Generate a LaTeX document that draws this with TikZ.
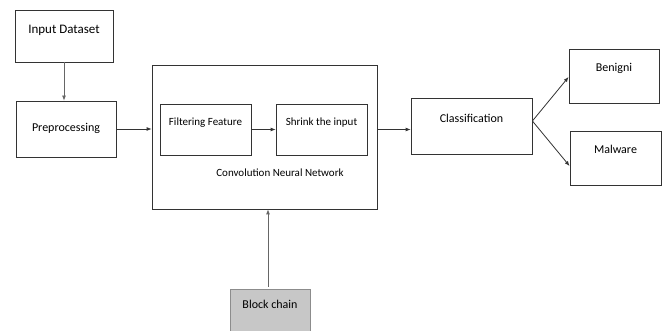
\documentclass[tikz,border=0pt]{standalone}
\usepackage{fontspec}
\setmainfont{Carlito}
\usetikzlibrary{arrows.meta,calc}

\begin{document}
\begin{tikzpicture}[x=1pt, y=-1pt, >={Latex[length=5pt,width=4pt]},
    box/.style={draw=black!80, line width=0.8pt, inner sep=0pt,
        font=\fontsize{12}{14}\selectfont, text height=9pt, text depth=3pt},
    up/.style={text depth=#1},
    link/.style={->, draw=black!80, line width=0.8pt}]
    % 1. Khung hình
    \useasboundingbox (0,0) rectangle (665,331);

    % 2. Các khối chính
    \node[box, minimum width=98pt, minimum height=52pt, up=13pt,
        font=\fontsize{13}{15}\selectfont] (inputds) at (64,36) {Input Dataset};
    \node[box, minimum width=100pt, minimum height=56pt] (prep) at (66,129) {Preprocessing};
    \node[box, minimum width=225pt, minimum height=144pt] (cnn) at (264.5,137) {};
    \node[box, minimum width=91pt, minimum height=51pt, up=16pt,
        font=\fontsize{11}{13}\selectfont] (filt) at (205.5,129.5) {Filtering Feature};
    \node[box, minimum width=91pt, minimum height=51pt, up=16pt,
        font=\fontsize{11}{13}\selectfont] (shrink) at (321.5,129.5) {Shrink the input};
    \node[font=\fontsize{11}{13}\selectfont] (cnnlabel) at (280,173) {Convolution Neural Network};
    \node[box, minimum width=121pt, minimum height=56pt, up=15pt] (cls) at (471.5,126) {Classification};
    \node[box, minimum width=90pt, minimum height=54pt, up=17pt] (ben) at (614,76) {Benigni};
    \node[box, minimum width=91pt, minimum height=54pt, up=17pt] (mal) at (615.5,158) {Malware};
    \node[box, draw=black!45, fill=black!22, minimum width=80pt, minimum height=46pt,
        up=15pt] (block) at (270,312) {Block chain};

    % 3. Điểm phụ
    \coordinate (fork) at ($(cls.east)+(0,-5)$);
    \coordinate (chainfoot) at (268,287);
    \coordinate (chaintop) at (chainfoot |- cnn.south);

    % 4. Các mũi tên
    \draw[link, draw=black!60] (inputds.south) -- (inputds.south |- prep.north);
    \draw[link] (prep.east) -- (prep.east -| cnn.west);
    \draw[link] (filt.east) -- (shrink.west);
    \draw[link] (cnn.east |- shrink.east) -- (cls.west |- shrink.east);
    \draw[link] (fork) -- ($(ben.west)+(0,1)$);
    \draw[link] (fork) -- ($(mal.west)+(0,8)$);
    \draw[link, draw=black!60] (chainfoot) -- (chaintop);
\end{tikzpicture}
\end{document}
